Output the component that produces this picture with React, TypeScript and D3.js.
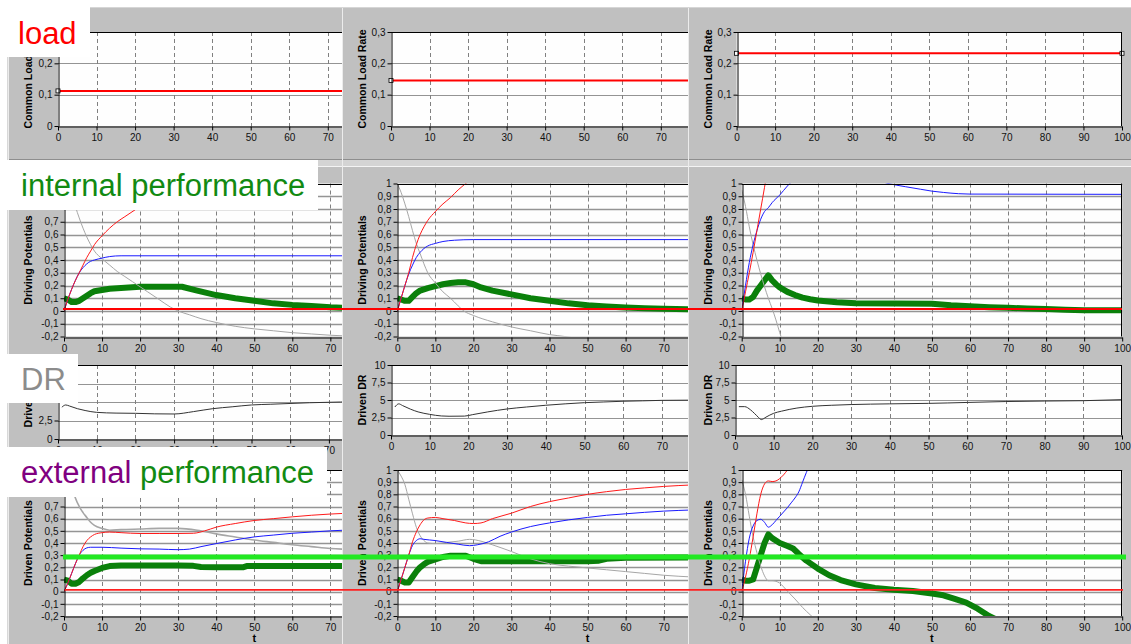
import React, { useEffect, useRef } from "react";
import * as d3 from "d3";

type Pt = [number, number];

// ---------------- DATA ----------------
const timeTicks = [0, 10, 20, 30, 40, 50, 60, 70, 80, 90, 100];
const loadTicks = [0, 0.1, 0.2, 0.3];
const potentialTicks = [-0.2, -0.1, 0, 0.1, 0.2, 0.3, 0.4, 0.5, 0.6, 0.7, 0.8, 0.9, 1];
const drTicks = [0, 2.5, 5, 7.5, 10];

const commonLoadRate = [0.112, 0.145, 0.232];

const internalRed: Pt[][] = [
  [[0, 0], [1, 0.09], [2, 0.17], [3, 0.24], [4, 0.3], [5, 0.36], [6, 0.42], [7, 0.47], [8, 0.52], [10, 0.59], [12, 0.65], [14, 0.7], [16, 0.74], [19, 0.8], [22, 0.86], [26, 0.93], [30, 1.0], [34, 1.06]],
  [[0, 0], [1, 0.1], [2, 0.2], [3, 0.3], [4, 0.42], [5, 0.52], [6, 0.6], [7, 0.66], [8, 0.71], [10, 0.78], [12, 0.84], [14, 0.89], [16, 0.95], [18, 1.0], [20, 1.05]],
  [[0, 0], [1, 0.15], [2, 0.3], [3, 0.46], [4, 0.63], [5, 0.8], [6, 0.97], [7, 1.15]],
];
const internalBlue: Pt[][] = [
  [[0, 0], [1, 0.09], [2, 0.17], [3, 0.24], [4, 0.3], [5, 0.34], [6, 0.37], [7, 0.39], [8, 0.4], [10, 0.415], [12, 0.427], [15, 0.433], [78, 0.433]],
  [[0, 0], [1, 0.1], [2, 0.2], [3, 0.29], [4, 0.36], [5, 0.42], [6, 0.46], [7, 0.49], [8, 0.51], [10, 0.53], [12, 0.545], [15, 0.555], [20, 0.56], [78, 0.56]],
  [[0, 0], [1, 0.2], [2, 0.38], [3, 0.52], [4, 0.63], [5, 0.72], [6, 0.78], [7, 0.81], [8, 0.85], [10, 0.91], [12, 0.98], [13, 1.01], [20, 1.1], [30, 1.08], [38.5, 1.0], [43, 0.975], [47, 0.955], [50, 0.94], [53, 0.93], [57, 0.92], [60, 0.917], [100, 0.915]],
];
const internalGray: Pt[][] = [
  [[1, 1.05], [2, 0.93], [3, 0.82], [4, 0.73], [5, 0.65], [6, 0.58], [7, 0.52], [8, 0.47], [10, 0.41], [12, 0.36], [14, 0.31], [16, 0.27], [18, 0.23], [20, 0.19], [22, 0.15], [25, 0.09], [28, 0.03], [30, 0.0], [33, -0.03], [36, -0.06], [40, -0.09], [45, -0.12], [50, -0.14], [55, -0.155], [60, -0.17], [65, -0.18], [70, -0.19], [78, -0.2]],
  [[0, 1.0], [1, 0.93], [2, 0.84], [3, 0.74], [4, 0.63], [5, 0.53], [6, 0.45], [7, 0.37], [8, 0.3], [10, 0.22], [12, 0.15], [14, 0.1], [16, 0.04], [17.5, 0.0], [20, -0.035], [25, -0.085], [30, -0.125], [35, -0.155], [40, -0.185], [44, -0.2], [50, -0.23]],
  [[0, 0.95], [1, 0.82], [2, 0.66], [3, 0.52], [4, 0.4], [5, 0.29], [6, 0.19], [7, 0.1], [8, 0.02], [9, -0.07], [10, -0.17], [11, -0.26]],
];
const internalGreen: Pt[][] = [
  [[0, 0.1], [1, 0.09], [2, 0.07], [3, 0.07], [4, 0.08], [5, 0.1], [6, 0.12], [7, 0.14], [8, 0.155], [10, 0.165], [12, 0.175], [15, 0.18], [20, 0.19], [25, 0.19], [31, 0.19], [35, 0.16], [40, 0.125], [45, 0.1], [50, 0.08], [55, 0.06], [60, 0.048], [65, 0.04], [70, 0.03], [78, 0.02]],
  [[0, 0.1], [1, 0.09], [2, 0.08], [3, 0.08], [4, 0.11], [5, 0.14], [6, 0.16], [8, 0.18], [10, 0.195], [12, 0.21], [14, 0.22], [16, 0.225], [18, 0.225], [20, 0.21], [22, 0.185], [25, 0.16], [30, 0.13], [35, 0.1], [40, 0.08], [45, 0.06], [50, 0.045], [55, 0.035], [60, 0.028], [65, 0.022], [70, 0.018], [78, 0.012]],
  [[0, 0.1], [1, 0.09], [2, 0.09], [3, 0.11], [4, 0.16], [5, 0.2], [6, 0.24], [7, 0.28], [8, 0.24], [9, 0.21], [10, 0.185], [12, 0.15], [14, 0.125], [16, 0.105], [18, 0.092], [20, 0.083], [25, 0.068], [30, 0.06], [40, 0.058], [50, 0.056], [55, 0.045], [60, 0.038], [65, 0.03], [70, 0.025], [75, 0.02], [80, 0.015], [85, 0.01], [90, 0.006], [100, 0.005]],
];

const drivenDR: Pt[][] = [
  [[1, 4.3], [2, 4.6], [3, 4.45], [5, 4.1], [7, 3.85], [10, 3.6], [15, 3.5], [20, 3.47], [25, 3.4], [30, 3.38], [35, 3.7], [40, 4.1], [45, 4.35], [50, 4.6], [55, 4.7], [60, 4.8], [65, 4.9], [73, 5.0], [78, 5.05]],
  [[1, 4.0], [2, 4.45], [3, 4.2], [5, 3.7], [7, 3.3], [10, 2.95], [13, 2.72], [15, 2.68], [19, 2.7], [21, 2.9], [25, 3.3], [30, 3.72], [35, 4.0], [40, 4.25], [45, 4.45], [50, 4.62], [55, 4.72], [60, 4.82], [65, 4.88], [70, 4.95], [78, 4.98]],
  [[1, 4.05], [2.5, 4.05], [4, 3.6], [5, 3.1], [6, 2.55], [6.8, 2.2], [8, 2.55], [9, 2.85], [10, 3.1], [12, 3.4], [14, 3.65], [16, 3.85], [20, 4.1], [25, 4.25], [30, 4.35], [40, 4.45], [50, 4.52], [55, 4.58], [60, 4.65], [70, 4.78], [80, 4.85], [90, 4.9], [100, 5.05]],
];

const externalRed: Pt[][] = [
  [[0, 0], [1, 0.07], [2, 0.15], [3, 0.23], [4, 0.3], [5, 0.37], [6, 0.42], [7, 0.45], [8, 0.47], [10, 0.485], [12, 0.49], [15, 0.485], [20, 0.478], [25, 0.478], [30, 0.478], [34, 0.48], [37, 0.5], [40, 0.53], [45, 0.56], [50, 0.585], [55, 0.6], [60, 0.615], [65, 0.628], [70, 0.638], [78, 0.65]],
  [[0, 0], [1, 0.1], [2, 0.2], [3, 0.3], [4, 0.41], [5, 0.49], [6, 0.55], [7, 0.59], [8, 0.605], [10, 0.61], [12, 0.6], [15, 0.585], [18, 0.565], [20, 0.56], [22, 0.565], [25, 0.6], [30, 0.645], [35, 0.7], [40, 0.74], [45, 0.77], [50, 0.8], [55, 0.822], [60, 0.84], [65, 0.853], [70, 0.865], [78, 0.878]],
  [[0, 0], [1, 0.12], [2, 0.27], [3, 0.45], [4, 0.64], [5, 0.8], [6, 0.885], [7, 0.91], [8, 0.905], [9, 0.91], [10, 0.93], [11, 0.96], [12, 1.0], [13, 1.05]],
];
const externalBlue: Pt[][] = [
  [[0, 0], [1, 0.07], [2, 0.15], [3, 0.23], [4, 0.3], [5, 0.34], [6, 0.36], [7, 0.365], [10, 0.365], [15, 0.358], [20, 0.352], [25, 0.35], [30, 0.345], [33, 0.35], [36, 0.37], [40, 0.395], [45, 0.425], [50, 0.45], [55, 0.465], [60, 0.48], [65, 0.49], [70, 0.5], [78, 0.51]],
  [[0, 0], [1, 0.1], [2, 0.2], [3, 0.3], [4, 0.38], [5, 0.42], [6, 0.435], [7, 0.43], [10, 0.42], [13, 0.405], [16, 0.39], [19, 0.378], [21, 0.385], [24, 0.41], [27, 0.455], [30, 0.49], [35, 0.535], [40, 0.565], [45, 0.59], [50, 0.61], [55, 0.628], [60, 0.64], [65, 0.652], [70, 0.662], [78, 0.672]],
  [[0, 0], [1, 0.25], [2, 0.44], [3, 0.54], [4, 0.585], [5, 0.595], [6, 0.57], [7, 0.53], [8, 0.55], [9, 0.585], [10, 0.62], [11, 0.655], [12, 0.69], [13, 0.73], [14, 0.77], [15, 0.82], [16, 0.9], [17, 0.98], [18, 1.05]],
];
const externalGray: Pt[][] = [
  [[1, 1.1], [2, 0.88], [3, 0.77], [4, 0.7], [5, 0.65], [6, 0.61], [7, 0.57], [8, 0.545], [10, 0.52], [12, 0.505], [15, 0.51], [20, 0.515], [25, 0.52], [30, 0.52], [35, 0.505], [40, 0.475], [45, 0.45], [50, 0.425], [55, 0.405], [60, 0.385], [65, 0.37], [70, 0.355], [78, 0.345]],
  [[0, 1.0], [1, 0.95], [2, 0.88], [3, 0.76], [4, 0.64], [5, 0.53], [6, 0.46], [7, 0.42], [8, 0.4], [10, 0.395], [13, 0.405], [16, 0.415], [19, 0.43], [22, 0.415], [25, 0.385], [30, 0.33], [35, 0.27], [40, 0.23], [45, 0.21], [50, 0.195], [55, 0.18], [60, 0.165], [65, 0.15], [70, 0.135], [78, 0.12]],
  [[0, 0.92], [1, 0.8], [2, 0.62], [3, 0.45], [4, 0.32], [5, 0.21], [6, 0.13], [7, 0.09], [8, 0.09], [9, 0.085], [10, 0.07], [11, 0.04], [12, 0.005], [14, -0.06], [16, -0.13], [18, -0.19], [19, -0.22]],
];
const externalGreen: Pt[][] = [
  [[0, 0.1], [1, 0.09], [2, 0.065], [3, 0.065], [4, 0.08], [5, 0.11], [6, 0.135], [7, 0.155], [8, 0.17], [10, 0.195], [12, 0.21], [15, 0.215], [20, 0.215], [30, 0.215], [34, 0.212], [36, 0.203], [40, 0.2], [47, 0.2], [48, 0.21], [55, 0.21], [65, 0.21], [78, 0.21]],
  [[0, 0.1], [1, 0.09], [2, 0.075], [3, 0.075], [4, 0.12], [5, 0.165], [6, 0.2], [7, 0.225], [8, 0.245], [10, 0.265], [12, 0.285], [14, 0.295], [18, 0.295], [20, 0.27], [22, 0.25], [30, 0.25], [40, 0.25], [50, 0.25], [53, 0.255], [55, 0.27], [60, 0.278], [78, 0.28]],
  [[0, 0.1], [1, 0.09], [2, 0.09], [3, 0.1], [4, 0.2], [5, 0.3], [6, 0.4], [7, 0.47], [8, 0.44], [10, 0.4], [12, 0.375], [13.5, 0.355], [15, 0.31], [17, 0.255], [20, 0.19], [23, 0.135], [26, 0.095], [30, 0.06], [35, 0.03], [40, 0.015], [45, 0.005], [50, -0.015], [53, -0.03], [56, -0.06], [59, -0.09], [62, -0.14], [65, -0.2], [67, -0.23]],
];

const zeroMarkLevel = 0.015;
const targetLevel = 0.285;

// ---------------- LAYOUT ----------------
const W = 1131;
const H = 644;
const FONT = "'Liberation Sans', Arial, Helvetica, sans-serif";
const panelLeft = [8, 342, 688];
const panelRight = [342, 688, 1131];
const titleX = [28, 362.3, 707.5];

type RowDef = {
  key: string;
  axisX: number[];
  width: number;
  yTop: number[];
  yBottom: number[];
  domain: [number, number];
  ticks: number[];
  title: string;
  gridW: number;
};
const rows: RowDef[] = [
  { key: "load", axisX: [58, 391, 736.6], width: 385.4, yTop: [32, 32, 32], yBottom: [126, 126, 126], domain: [0, 0.3], ticks: loadTicks, title: "Common Load Rate", gridW: 1 },
  { key: "internal", axisX: [64, 397.3, 741.7], width: 380.5, yTop: [183.5, 183.5, 183.5], yBottom: [336.5, 336.5, 336.5], domain: [-0.2, 1], ticks: potentialTicks, title: "Driving Potentials", gridW: 1.5 },
  { key: "dr", axisX: [58, 391, 735], width: 387, yTop: [365, 365, 365], yBottom: [439, 435, 435], domain: [0, 10], ticks: drTicks, title: "Driven DR", gridW: 1 },
  { key: "external", axisX: [64, 397.3, 741.7], width: 380.5, yTop: [470, 470, 470], yBottom: [616, 616, 616], domain: [-0.2, 1], ticks: potentialTicks, title: "Driven Potentials", gridW: 1.5 },
];

// white label boxes laid over the screenshots
const labelBoxes = [
  { x: 0, y: 0, w: 90, h: 57, tx: 18, ty: 44, parts: [["load", "#ff0000"]] },
  { x: 0, y: 160, w: 318, h: 50, tx: 21, ty: 196, parts: [["internal performance", "#128a12"]] },
  { x: 0, y: 354, w: 78, h: 49, tx: 21, ty: 390, parts: [["DR", "#8c8c8c"]] },
  { x: 0, y: 447, w: 327, h: 50, tx: 21, ty: 483, parts: [["external", "#800080"], [" performance", "#128a12"]] },
];
const insideBox = (px: number, py: number) =>
  labelBoxes.some((b) => px >= b.x && px <= b.x + b.w && py >= b.y && py <= b.y + b.h);

const fmt = (v: number) => String(Math.round(v * 10) / 10).replace(".", ",");

function seriesFor(r: number, c: number) {
  const key = rows[r].key;
  if (key === "load") {
    const v = commonLoadRate[c];
    return [{ data: [[0, v], [100, v]] as Pt[], color: "#ff0000", w: 2, linear: true }];
  }
  if (key === "dr") return [{ data: drivenDR[c], color: "#333333", w: 1, linear: false }];
  const src = key === "internal"
    ? [internalGreen, internalGray, internalBlue, internalRed]
    : [externalGreen, externalGray, externalBlue, externalRed];
  return [
    { data: src[0][c], color: "#0a800a", w: 6, linear: true },
    { data: src[1][c], color: "#a6a6a6", w: key === "external" && c === 0 ? 1.6 : 1, linear: false },
    { data: src[2][c], color: "#1a1aff", w: 1, linear: false },
    { data: src[3][c], color: "#ff1a1a", w: 1, linear: false },
  ];
}

function draw(svgEl: SVGSVGElement) {
  const svg = d3.select(svgEl);
  svg.selectAll("*").remove();
  const defs = svg.append("defs");
  svg.append("rect").attr("width", W).attr("height", H).attr("fill", "#ffffff");

  const scales: { x: d3.ScaleLinear<number, number>; y: d3.ScaleLinear<number, number> }[][] = [];

  for (let c = 0; c < 3; c++) {
    const colId = `colclip${c}`;
    defs.append("clipPath").attr("id", colId).append("rect")
      .attr("x", panelLeft[c]).attr("y", 0).attr("width", panelRight[c] - panelLeft[c]).attr("height", H);
    const g = svg.append("g").attr("clip-path", `url(#${colId})`);
    const pw = panelRight[c] - panelLeft[c];
    // panels
    g.append("rect").attr("x", panelLeft[c]).attr("y", 8).attr("width", pw).attr("height", 151).attr("fill", "#c0c0c0");
    g.append("rect").attr("x", panelLeft[c]).attr("y", 167).attr("width", pw).attr("height", H - 167).attr("fill", "#c0c0c0");
    g.append("line").attr("x1", panelLeft[c]).attr("x2", panelRight[c]).attr("y1", 7.5).attr("y2", 7.5).attr("stroke", "#d6d6d6");
    g.append("line").attr("x1", panelLeft[c]).attr("x2", panelRight[c]).attr("y1", 159.5).attr("y2", 159.5).attr("stroke", "#8e8e8e");
    g.append("rect").attr("x", panelLeft[c]).attr("y", 160).attr("width", pw).attr("height", 6).attr("fill", "#d4d4d4");
    g.append("line").attr("x1", panelLeft[c]).attr("x2", panelRight[c]).attr("y1", 166.5).attr("y2", 166.5).attr("stroke", "#f4f4f4");
    g.append("line").attr("x1", panelLeft[c] + 0.5).attr("x2", panelLeft[c] + 0.5).attr("y1", 8).attr("y2", H).attr("stroke", "#ececec");

    scales.push([]);
    for (let r = 0; r < rows.length; r++) {
      const row = rows[r];
      const ax = row.axisX[c];
      const w = row.width;
      const yt = row.yTop[c];
      const yb = row.yBottom[c];
      const x = d3.scaleLinear().domain([0, 100]).range([ax, ax + w]);
      const y = d3.scaleLinear().domain(row.domain).range([yb, yt]);
      scales[c].push({ x, y });
      // ticks of this column that are not covered by the next screenshot
      const visibleTimeTicks = timeTicks.filter((t) => x(t) + 6 <= panelRight[c]);

      g.append("rect").attr("x", ax).attr("y", yt).attr("width", w).attr("height", yb - yt).attr("fill", "#fefefe");
      // horizontal grid
      g.append("g").selectAll("line")
        .data(row.ticks.filter((t) => t !== row.domain[0] && t !== row.domain[1]))
        .join("line")
        .attr("x1", ax).attr("x2", ax + w)
        .attr("y1", (d) => Math.round(y(d)) + 0.5).attr("y2", (d) => Math.round(y(d)) + 0.5)
        .attr("stroke", "#949494").attr("stroke-width", row.gridW);
      // vertical dashed grid
      g.append("g").selectAll("line")
        .data(timeTicks.filter((t) => t > 0 && t < 100))
        .join("line")
        .attr("x1", (d) => Math.round(x(d)) + 0.5).attr("x2", (d) => Math.round(x(d)) + 0.5)
        .attr("y1", yt).attr("y2", yb)
        .attr("stroke", "#808080").attr("stroke-dasharray", "4,3");

      // series
      const pid = `plot${c}_${r}`;
      defs.append("clipPath").attr("id", pid).append("rect")
        .attr("x", ax).attr("y", yt).attr("width", w).attr("height", yb - yt);
      const sg = g.append("g").attr("clip-path", `url(#${pid})`);
      for (const s of seriesFor(r, c)) {
        const line = d3.line<Pt>().x((d) => x(d[0])).y((d) => y(d[1]))
          .curve(s.linear ? d3.curveLinear : d3.curveMonotoneX);
        sg.append("path").attr("d", line(s.data) as string).attr("fill", "none")
          .attr("stroke", s.color).attr("stroke-width", s.w).attr("stroke-linejoin", "round");
      }
      if (row.key === "load") {
        const v = commonLoadRate[c];
        const marks = c === 2 ? [0, 100] : [0];
        g.append("g").selectAll("rect").data(marks).join("rect")
          .attr("x", (d) => x(d) - 2).attr("y", y(v) - 2).attr("width", 4).attr("height", 4)
          .attr("fill", "#fff").attr("stroke", "#000").attr("stroke-width", 0.8);
      }

      // axes
      const ya = g.append("g").attr("transform", `translate(${Math.round(ax) + 0.5},0)`)
        .call(d3.axisLeft(y).tickValues(row.ticks).tickSize(4).tickPadding(2).tickSizeOuter(0).tickFormat((d) => fmt(+d)));
      // labels that sit entirely under a white section box are not visible in the reference
      ya.selectAll<SVGGElement, number>(".tick")
        .filter((d) => insideBox(ax - 10, y(d)) && insideBox(ax - 22, y(d)))
        .select("text").remove();
      const xa = g.append("g").attr("transform", `translate(0,${Math.round(yb) + 0.5})`)
        .call(d3.axisBottom(x).tickValues(visibleTimeTicks).tickSize(4).tickPadding(3).tickSizeOuter(0).tickFormat((d) => String(d)));
      for (const a of [ya, xa]) {
        a.attr("font-family", FONT).attr("font-size", 10);
        a.select(".domain").attr("stroke", "#000");
        a.selectAll(".tick line").attr("stroke", "#000");
        a.selectAll(".tick text").attr("fill", "#111");
      }
      // top and right borders
      g.append("line").attr("x1", ax).attr("x2", ax + w).attr("y1", Math.round(yt) + 0.5).attr("y2", Math.round(yt) + 0.5).attr("stroke", "#000");
      g.append("line").attr("x1", Math.round(ax + w) - 0.5).attr("x2", Math.round(ax + w) - 0.5).attr("y1", yt).attr("y2", yb).attr("stroke", "#000");

      // y title
      g.append("text")
        .attr("transform", `translate(${titleX[c]},${(yt + yb) / 2}) rotate(-90)`)
        .attr("text-anchor", "middle").attr("dominant-baseline", "central")
        .attr("font-family", FONT).attr("font-weight", "bold").attr("font-size", 10.5)
        .attr("fill", "#000").text(row.title);
      if (row.key === "external") {
        g.append("text").attr("x", ax + w / 2).attr("y", 642)
          .attr("text-anchor", "middle").attr("font-family", FONT).attr("font-weight", "bold")
          .attr("font-size", 11).attr("fill", "#000").text("t");
      }
    }
  }

  // left margin edge
  svg.append("line").attr("x1", 7.5).attr("x2", 7.5).attr("y1", 8).attr("y2", H).attr("stroke", "#d8d8d8");

  // overlay marker lines
  const yInt = scales[1][1].y;
  const yExt = scales[1][3].y;
  svg.append("line").attr("x1", 63).attr("x2", 1122).attr("y1", yInt(zeroMarkLevel)).attr("y2", yInt(zeroMarkLevel))
    .attr("stroke", "#ff0000").attr("stroke-width", 2);
  svg.append("line").attr("x1", 65).attr("x2", 1123).attr("y1", yExt(zeroMarkLevel)).attr("y2", yExt(zeroMarkLevel))
    .attr("stroke", "#ff2020").attr("stroke-width", 1.6);
  svg.append("line").attr("x1", 63).attr("x2", 1126).attr("y1", yExt(targetLevel)).attr("y2", yExt(targetLevel))
    .attr("stroke", "#22e822").attr("stroke-width", 5);

  // section label boxes
  for (const l of labelBoxes) {
    svg.append("rect").attr("x", l.x).attr("y", l.y).attr("width", l.w).attr("height", l.h).attr("fill", "#ffffff");
    const t = svg.append("text").attr("x", l.tx).attr("y", l.ty).attr("font-family", FONT).attr("font-size", 31);
    for (const [s, col] of l.parts) t.append("tspan").attr("fill", col).text(s);
  }
}

export default function App() {
  const ref = useRef<SVGSVGElement>(null);
  useEffect(() => {
    document.body.style.margin = "0";
    if (ref.current) draw(ref.current);
  }, []);
  return (
    <svg ref={ref} width={W} height={H}
      style={{ position: "absolute", left: 0, top: 0, display: "block" }} />
  );
}
